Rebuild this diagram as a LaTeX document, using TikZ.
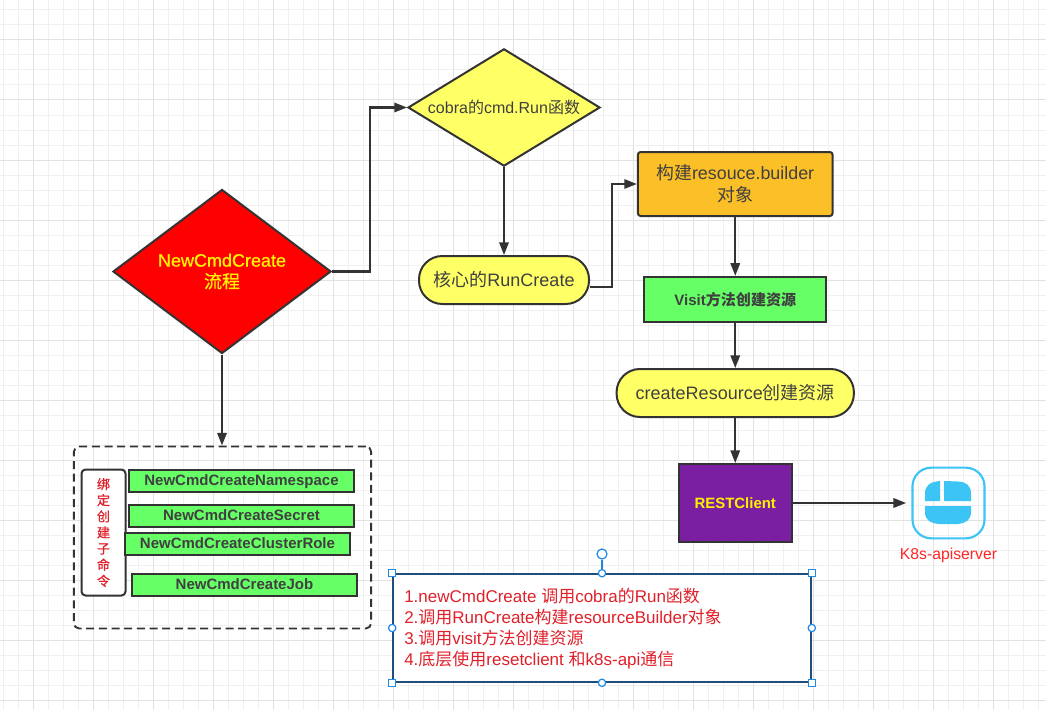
\documentclass[tikz,border=0pt]{standalone}
\usepackage{fontspec}
\setmainfont{Liberation Sans}
\newfontfamily\cjk{Noto Sans CJK SC}
\newfontfamily\cjkb{Noto Sans CJK SC Bold}
\newfontfamily\fauxlatin[FakeBold=0.8]{Liberation Sans}
\newfontfamily\fauxcjk[FakeBold=0.8]{Noto Sans CJK SC}
\usetikzlibrary{shapes.geometric,arrows.meta,calc}
\definecolor{inkline}{HTML}{333333}
\definecolor{inktext}{HTML}{404040}
\definecolor{gridminor}{HTML}{F0F0F0}
\definecolor{gridmajor}{HTML}{E2E2E2}
\definecolor{warnred}{HTML}{E0202A}
\definecolor{lemon}{HTML}{FFFF66}
\definecolor{leaf}{HTML}{66FF66}
\definecolor{amber}{HTML}{FBBF28}
\definecolor{royal}{HTML}{7B1FA2}
\definecolor{handle}{HTML}{1E88E5}
\definecolor{sky}{HTML}{3CC4F5}
\definecolor{navy}{HTML}{1F4E79}
\tikzset{
  x=0.75pt,y=-0.75pt,
  shapeline/.style={draw=inkline,line width=1.5pt},
  flow/.style={draw=inkline,line width=1.6pt,-{Triangle[length=9.5pt,width=7pt]}},
  choice/.style={shape=diamond,shapeline,inner sep=0pt,align=center,text=inktext},
  pill/.style={shapeline,fill=lemon,rounded corners=17.5pt,inner sep=0pt,align=center,text=inktext,font=\fontsize{13.5}{16}\selectfont},
  cmdbox/.style={shapeline,fill=leaf,minimum width=169pt,minimum height=16.5pt,inner sep=0pt,text height=9pt,text depth=2pt,text=inktext,font=\fontsize{11.25}{12}\bfseries\selectfont},
  grip/.style={draw=handle,fill=white,line width=0.9pt,inner sep=0pt},
}
\begin{document}
\begin{tikzpicture}
\useasboundingbox (0,0) rectangle (1046,710);
\fill[white] (0,0) rectangle (1046,710);
% background grid
\foreach \gx in {3,18,...,1046} \draw[gridminor,line width=0.75pt] (\gx,0) -- (\gx,710);
\foreach \gy in {10,25,...,710} \draw[gridminor,line width=0.75pt] (0,\gy) -- (1046,\gy);
\foreach \gx in {33,93,...,1046} \draw[gridmajor,line width=0.75pt] (\gx,0) -- (\gx,710);
\foreach \gy in {40,100,...,710} \draw[gridmajor,line width=0.75pt] (0,\gy) -- (1046,\gy);

% flow nodes
\node[choice,aspect=1.33,fill=red,minimum width=163.5pt,minimum height=123pt,text=yellow,font=\fontsize{13.5}{16}\fauxlatin] (main) at (222,271.5) {NewCmdCreate\\{\fauxcjk 流程}};
\node[choice,aspect=1.64,fill=lemon,minimum width=144pt,minimum height=88pt,font=\fontsize{12}{15}\selectfont] (cobra) at (504,107.5) {cobra{\cjk 的}cmd.Run{\cjk 函数}};
\node[pill,minimum width=127.5pt,minimum height=36pt] (run) at (504,280) {{\cjk 核心的}RunCreate};
\node[shapeline,fill=amber,rounded corners=2pt,minimum width=146pt,minimum height=48pt,inner sep=0pt,align=center,text=inktext,font=\fontsize{13.4}{16.5}\selectfont] (builder) at (735.25,184) {{\cjk 构建}resouce.builder\\{\cjk 对象}};
\node[shapeline,fill=leaf,minimum width=136.5pt,minimum height=34pt,inner sep=0pt,text=inktext,font=\fontsize{11.3}{12}\bfseries\selectfont] (visit) at (735.25,299.5) {Visit{\cjkb 方法创建资源}};
\node[pill,minimum width=178pt,minimum height=36pt] (create) at (735.25,393) {createResource{\cjk 创建资源}};
\node[shapeline,fill=royal,minimum width=85pt,minimum height=58.5pt,inner sep=0pt,text=yellow,font=\fontsize{11.2}{12}\bfseries\selectfont] (rest) at (735.25,503) {RESTClient};

% API server icon
\node[draw=sky,line width=1.6pt,rounded corners=14pt,minimum width=54pt,minimum height=53pt,inner sep=0pt] (api) at (948.5,503) {};
\fill[sky] (925,494) .. controls (925,485) and (930,482) .. (940,481) -- (940,501) -- (925,501) -- cycle;
\fill[sky] (944,481) -- (958,481.5) .. controls (966,482) and (971,485) .. (971,494) -- (971,501) -- (944,501) -- cycle;
\fill[sky] (925,506) -- (971,506) -- (971,512) .. controls (971,520) and (966,523) .. (958,524) -- (939,524) .. controls (930,523) and (925,520) .. (925,512) -- cycle;
\node[text=red!85!white,font=\fontsize{11.8}{13}\selectfont,inner sep=0pt] (apilabel) at (948.5,555.5) {K8s-apiserver};

% sub-command group
\node[draw=inkline,line width=1.4pt,dash pattern=on 6pt off 3.5pt,rounded corners=4pt,minimum width=223pt,minimum height=136.5pt,inner sep=0pt] (group) at (222.5,537.5) {};
\node[shapeline,fill=white,rounded corners=3pt,minimum width=33pt,minimum height=94.5pt,inner sep=0pt,align=center,text=warnred,font=\fontsize{9.8}{12.1}\fauxcjk] (bind) at (103.5,532.5) {绑\\定\\创\\建\\子\\命\\令};
\node[cmdbox] (ns) at (241.5,481) {NewCmdCreateNamespace};
\node[cmdbox] (secret) at (241.5,516) {NewCmdCreateSecret};
\node[cmdbox] (role) at (237.5,544) {NewCmdCreateClusterRole};
\node[cmdbox] (job) at (244.5,585) {NewCmdCreateJob};

% connectors
\draw[flow] (main.east) -- (370,271.5) -- (370,107.5) -- (cobra.west);
\draw[flow] (main.south) -- (main.south |- group.north);
\draw[flow] (cobra.south) -- (run.north);
\draw[flow] ([yshift=-5.25pt]run.east) -- (612,287) -- (612,184) -- (builder.west);
\draw[flow] (builder.south) -- (visit.north);
\draw[flow] (visit.south) -- (create.north);
\draw[flow] (create.south) -- (rest.north);
\draw[flow,shorten >=4pt] (rest.east) -- (api.west);

% selected note with its handles
\node[draw=navy,fill=white,line width=1.2pt,minimum width=313.5pt,minimum height=81pt,inner sep=0pt] (note) at (602,628) {};
\node[anchor=west,align=left,inner sep=0pt,text=warnred,font=\fontsize{12.75}{15.75}\selectfont] (notetext) at (404,628.5) {1.newCmdCreate {\cjk 调用}cobra{\cjk 的}Run{\cjk 函数}\\2.{\cjk 调用}RunCreate{\cjk 构建}resourceBuilder{\cjk 对象}\\3.{\cjk 调用}visit{\cjk 方法创建资源}\\4.{\cjk 底层使用}resetclient {\cjk 和}k8s-api{\cjk 通信}};
\node[grip,circle,minimum size=7.5pt] (rot) at (602,554) {};
\draw[handle,line width=0.9pt] (rot) -- (note.north);
\foreach \anc/\nm in {north west/a,north east/b,south west/c,south east/d}
  \node[grip,minimum size=5.5pt] (h\nm) at (note.\anc) {};
\foreach \anc/\nm in {north/e,south/f,west/g,east/i}
  \node[grip,circle,minimum size=5.5pt] (h\nm) at (note.\anc) {};
\end{tikzpicture}
\end{document}
